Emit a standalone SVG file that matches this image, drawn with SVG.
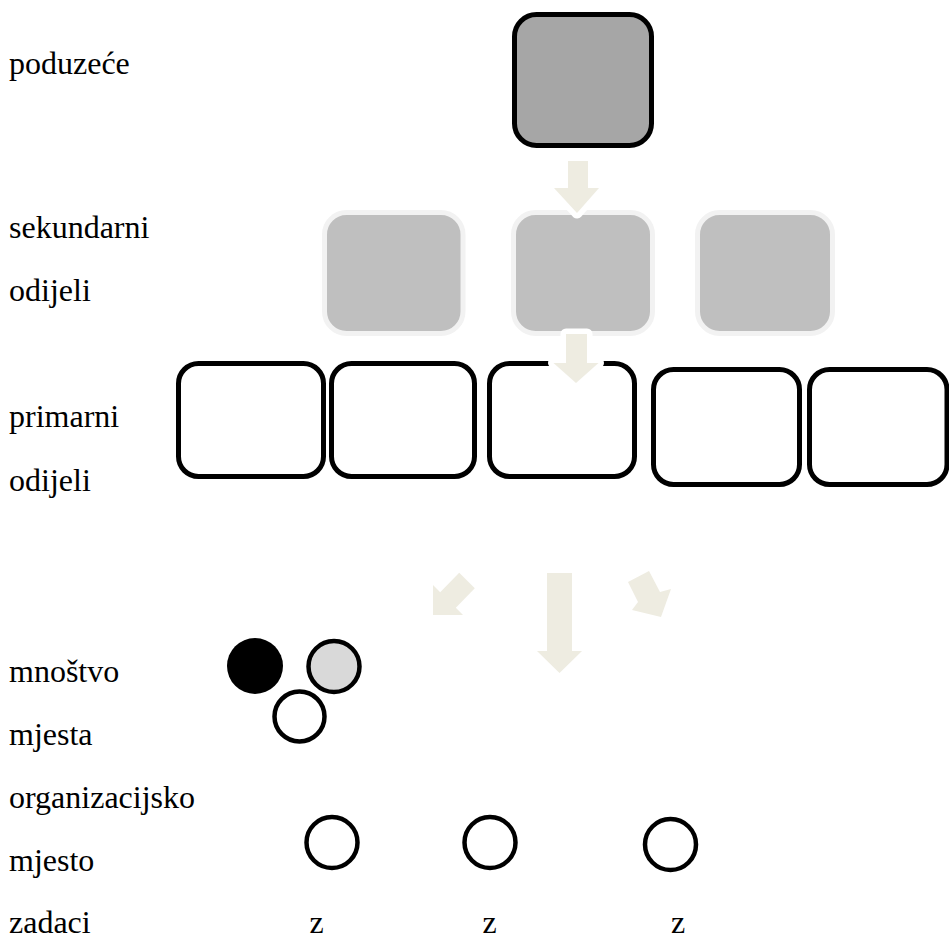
<svg xmlns="http://www.w3.org/2000/svg" width="949" height="940" viewBox="0 0 949 940">
<style>
.lbl{font-family:'Liberation Serif','Tinos','DejaVu Serif',serif;font-size:32px;fill:#000}
.top{fill:#a6a6a6;stroke:#000;stroke-width:5}
.sec{fill:#bfbfbf;stroke:#f2f2f2;stroke-width:5}
.pri{fill:#fff;stroke:#000;stroke-width:5}
.arr{fill:#eeece1;stroke:#fff;stroke-width:11;stroke-linejoin:round;paint-order:stroke}
.arrb{fill:#eeece1}
.c{fill:#fff;stroke:#000;stroke-width:4.5}
</style>
<rect width="949" height="940" fill="#fff"/>
<g id="labels" font-family="Liberation Serif, DejaVu Serif, serif">
<text class="lbl" x="9" y="74">poduzeće</text>
<text class="lbl" x="9" y="238">sekundarni</text>
<text class="lbl" x="9" y="301">odijeli</text>
<text class="lbl" x="9" y="427">primarni</text>
<text class="lbl" x="9" y="491">odijeli</text>
<text class="lbl" x="9" y="682">mnoštvo</text>
<text class="lbl" x="9" y="745">mjesta</text>
<text class="lbl" x="9" y="808">organizacijsko</text>
<text class="lbl" x="9" y="871">mjesto</text>
<text class="lbl" x="9" y="933">zadaci</text>
</g>
<g id="node-poduzece"><rect class="top" x="514.5" y="14.5" width="137" height="131" rx="22"/></g>
<g id="node-sek1"><rect class="sec" x="324.5" y="212.5" width="138.5" height="121" rx="22"/></g>
<g id="node-sek2"><rect class="sec" x="513.5" y="212.5" width="139" height="121" rx="22"/></g>
<g id="node-sek3"><rect class="sec" x="697.5" y="212.5" width="135" height="121" rx="22"/></g>
<g id="node-pri1"><rect class="pri" x="178.5" y="363.5" width="145" height="113" rx="20"/></g>
<g id="node-pri2"><rect class="pri" x="331.5" y="363.5" width="143" height="113" rx="20"/></g>
<g id="node-pri3"><rect class="pri" x="489.5" y="363.5" width="145" height="113" rx="20"/></g>
<g id="node-pri4"><rect class="pri" x="653.5" y="369.5" width="146" height="115" rx="20"/></g>
<g id="node-pri5"><rect class="pri" x="809.5" y="369.5" width="137.5" height="115" rx="20"/></g>
<g id="connectors">
<polygon class="arr" points="568,161 588,161 588,188 599,188 577,213 554,188 568,188"/>
<polygon class="arr" points="566,334 587,334 587,363 598.5,363 576,383 553.5,363 566,363"/>
<polygon class="arrb" points="547,573 572,573 572,651 582,651 559.5,673 537,651 547,651"/>
<polygon class="arrb" points="459.2,572.7 474.8,588.3 455.8,607.8 463,615 433,615 433,585 440.2,592.2"/>
<polygon class="arrb" points="649,571 660,592 671,589 661,617 632,610 638,602 628,582"/>
</g>
<g id="node-mnostvo">
<circle cx="255" cy="666" r="28" fill="#000"/>
<circle class="c" cx="334" cy="666.5" r="25.5" style="fill:#d9d9d9"/>
<circle class="c" cx="299.5" cy="716.5" r="25"/>
</g>
<g id="node-om1"><circle class="c" cx="332" cy="842.5" r="25.5"/></g>
<g id="node-om2"><circle class="c" cx="490" cy="842.5" r="25.5"/></g>
<g id="node-om3"><circle class="c" cx="670.5" cy="844.5" r="25.5"/></g>
<g id="zadaci" font-family="Liberation Serif, DejaVu Serif, serif">
<text class="lbl" x="316.5" y="933" text-anchor="middle">z</text>
<text class="lbl" x="489.5" y="933" text-anchor="middle">z</text>
<text class="lbl" x="678" y="933" text-anchor="middle">z</text>
</g>
</svg>
